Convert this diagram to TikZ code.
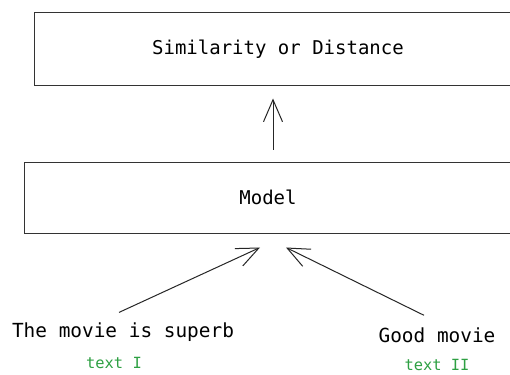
\documentclass[tikz,border=0pt]{standalone}
\usepackage{fontspec}
\setmonofont{DejaVu Sans Mono}
\usetikzlibrary{arrows.meta}
\definecolor{txtgreen}{HTML}{2EA043}
\tikzset{
  box/.style={draw=black!80, line width=1pt, rectangle, inner sep=0pt, font=\ttfamily\fontsize{19}{22}\selectfont},
  lbl/.style={inner sep=0pt, font=\ttfamily\fontsize{19.4}{22}\selectfont},
  sub/.style={inner sep=0pt, text=txtgreen, font=\ttfamily\fontsize{15.4}{18}\selectfont},
  arr/.style={draw=black!85, line width=1pt, -{Straight Barb[length=22pt, width=19pt, line width=1pt]}}
}
\begin{document}
\begin{tikzpicture}[x=1pt, y=-1pt]
\useasboundingbox (0,0) rectangle (510,374);
\fill[white] (0,0) rectangle (510,374);
\node[box, minimum width=488pt, minimum height=73pt] (sim) at (278,49.5) {Similarity or Distance};
\node[box, minimum width=488pt, minimum height=71pt] (model) at (268,197.5) {Model};
\node[lbl] (s1) at (123,332) {The movie is superb};
\node[lbl] (s2) at (437,335) {Good movie};
\node[sub] (t1) at (114,363) {text I};
\node[sub] (t2) at (437,365) {text II};
\draw[arr] ([xshift=5pt, yshift=12pt]model.north) -- ([xshift=-5pt, yshift=-12pt]sim.south);
\draw[arr] ([xshift=-4pt, yshift=10pt]s1.north) -- ([xshift=-8pt, yshift=-14pt]model.south);
\draw[arr] ([xshift=-13pt, yshift=12pt]s2.north) -- ([xshift=18pt, yshift=-14pt]model.south);
\end{tikzpicture}
\end{document}
